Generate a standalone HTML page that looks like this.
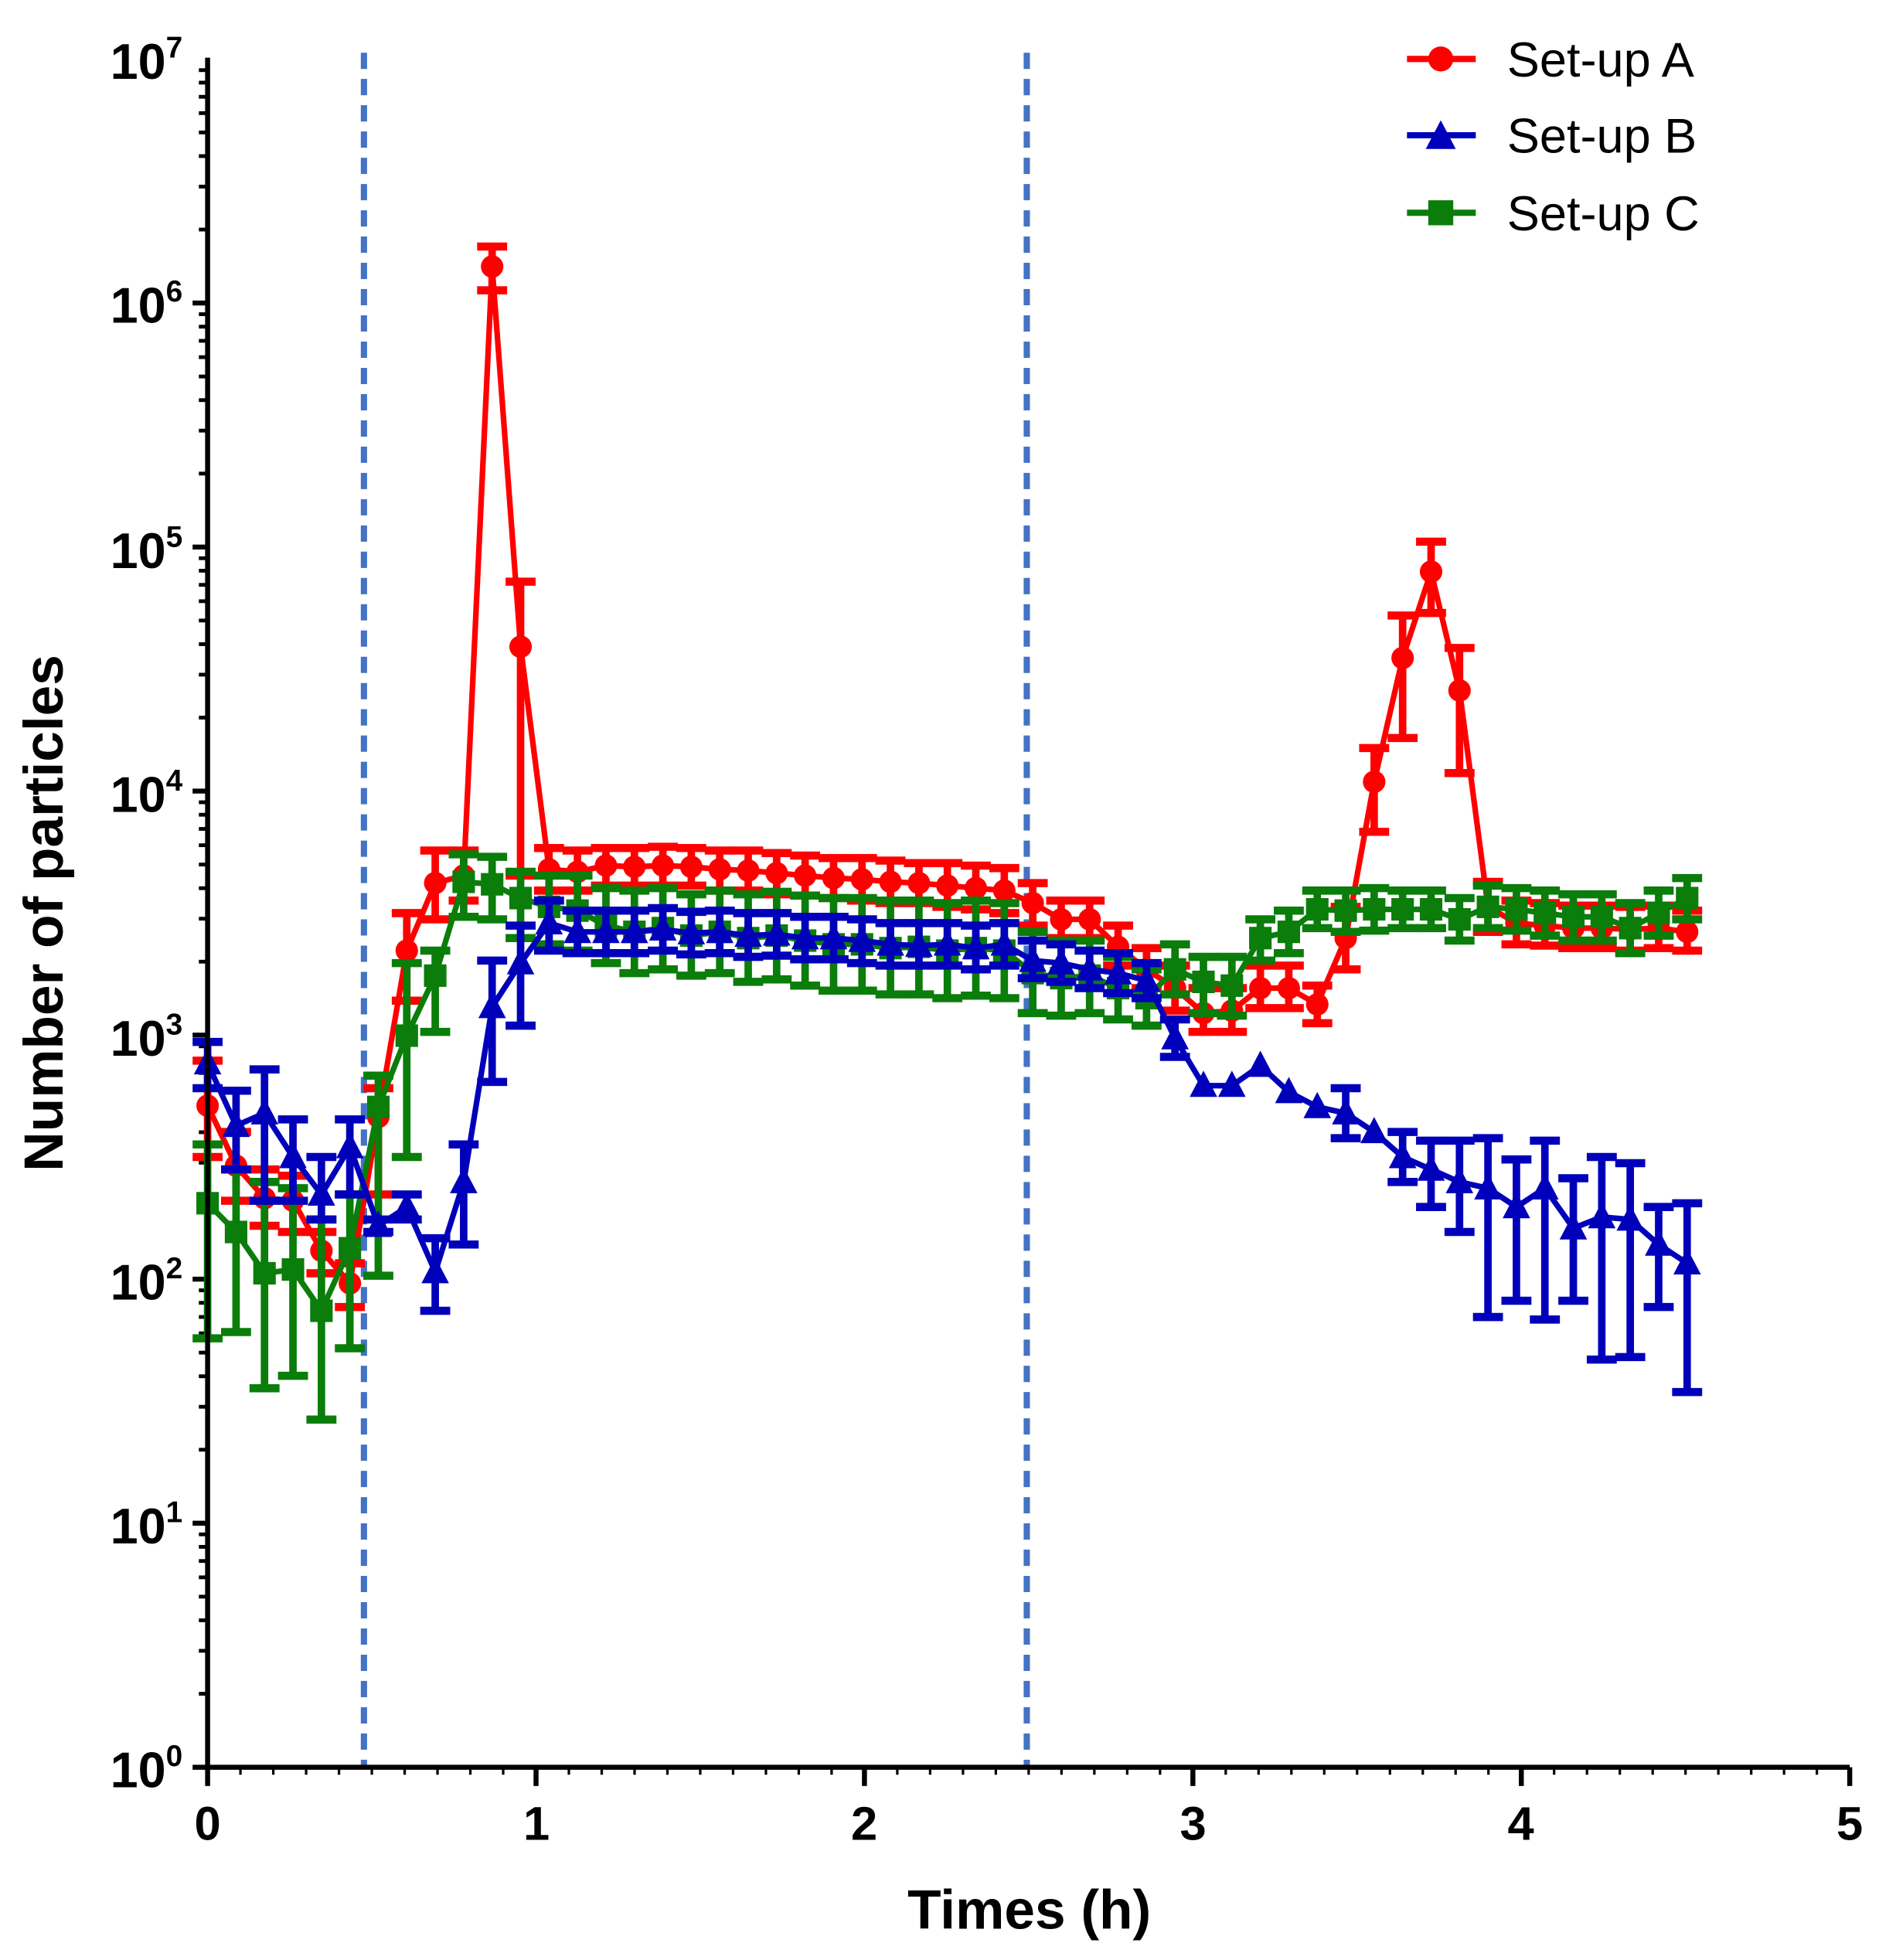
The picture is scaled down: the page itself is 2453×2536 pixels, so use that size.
<!DOCTYPE html>
<html><head><meta charset="utf-8"><style>
html,body{margin:0;padding:0;background:#fff;}
svg{display:block;}
text{font-family:"Liberation Sans",Arial,sans-serif;}
</style></head><body>
<svg id="s" xmlns="http://www.w3.org/2000/svg" width="2453" height="2536" viewBox="0 0 1516 1567">
<rect width="1516" height="1567" fill="#fff"/>
<g id="ticks"></g>
<line x1="291" y1="42" x2="291" y2="1413" stroke="#4472C4" stroke-width="5" stroke-dasharray="13,8"/>
<line x1="821" y1="42" x2="821" y2="1413" stroke="#4472C4" stroke-width="5" stroke-dasharray="13,8"/>
<g id="data"></g>
<line x1="166" y1="46" x2="166" y2="1414" stroke="#000" stroke-width="4"/>
<line x1="165" y1="1413" x2="1479" y2="1413" stroke="#000" stroke-width="4"/>
<g font-weight="bold" font-size="40" text-anchor="end">
<text x="146" y="63">10<tspan font-size="24" dy="-17">7</tspan></text>
<text x="146" y="258">10<tspan font-size="24" dy="-17">6</tspan></text>
<text x="146" y="454">10<tspan font-size="24" dy="-17">5</tspan></text>
<text x="146" y="649">10<tspan font-size="24" dy="-17">4</tspan></text>
<text x="146" y="844">10<tspan font-size="24" dy="-17">3</tspan></text>
<text x="146" y="1039">10<tspan font-size="24" dy="-17">2</tspan></text>
<text x="146" y="1234">10<tspan font-size="24" dy="-17">1</tspan></text>
<text x="146" y="1429">10<tspan font-size="24" dy="-17">0</tspan></text>
</g>
<g font-weight="bold" font-size="38" text-anchor="middle">
<text x="166" y="1471">0</text><text x="429" y="1471">1</text><text x="691" y="1471">2</text>
<text x="954" y="1471">3</text><text x="1216" y="1471">4</text><text x="1479" y="1471">5</text>
</g>
<text x="823" y="1542" font-weight="bold" font-size="44" text-anchor="middle">Times (h)</text>
<text transform="translate(50,730) rotate(-90)" font-weight="bold" font-size="44" text-anchor="middle">Number of particles</text>
<g font-size="39">
<line x1="1125" y1="47" x2="1180" y2="47" stroke="#f00" stroke-width="5"/><circle cx="1152" cy="47" r="10" fill="#f00"/>
<text x="1205" y="61">Set-up A</text>
<line x1="1125" y1="108" x2="1180" y2="108" stroke="#0000bb" stroke-width="5"/><polygon points="1152,96 1164,119 1140,119" fill="#0000bb"/>
<text x="1205" y="122">Set-up B</text>
<line x1="1125" y1="170" x2="1180" y2="170" stroke="#0a7d0a" stroke-width="5"/><rect x="1142" y="160" width="20" height="20" fill="#0a7d0a"/>
<text x="1205" y="184">Set-up C</text>
</g>
</svg>
<script>
(function(){
var NS="http://www.w3.org/2000/svg";
function el(p,t,a){var e=document.createElementNS(NS,t);for(var k in a)e.setAttribute(k,a[k]);p.appendChild(e);return e;}
var tk=document.getElementById('ticks');
for(var d=0;d<7;d++){var y0=1413-d*195.14;
 el(tk,'line',{x1:154,y1:y0,x2:166,y2:y0,stroke:'#000','stroke-width':4});
 for(var m=2;m<10;m++){var y=y0-Math.log10(m)*195.14;el(tk,'line',{x1:159,y1:y,x2:166,y2:y,stroke:'#000','stroke-width':3});}}
for(var i=0;i<=5;i++){var x=166+i*262.6;el(tk,'line',{x1:x,y1:1413,x2:x,y2:1428,stroke:'#000','stroke-width':4});}
for(var i=0;i<50;i++){var x=166+i*26.26;if(i%10)el(tk,'line',{x1:x,y1:1413,x2:x,y2:1419,stroke:'#000','stroke-width':2});}
function X(i){return 166+i*22.75;}
var red=[[884,848,925],[932,905,960],[958,935,980],[960,940,985],[1000,985,1018],[1026,1010,1045],[893,870,955],[760,730,800],[706,680,735],[700,680,720],[213,197,232],[517,465,700],[695,678,712],[697,680,712],[692,678,708],[693,678,708],[692,677,708],[693,678,708],[695,680,712],[696,680,712],[698,682,715],[700,684,716],[702,686,718],[703,686,720],[705,688,722],[706,690,722],[708,690,725],[710,692,727],[712,694,730],[722,706,740],[735,720,750],[735,720,750],[757,740,772],[775,758,790],[790,772,808],[810,790,825],[808,790,825],[790,772,806],[790,772,806],[803,788,818],[750,725,775],[625,598,665],[526,492,590],[457,433,490],[552,518,618],[725,705,745],[738,720,755],[740,722,756],[742,724,758],[742,724,758],[743,725,760],[742,724,758],[745,728,760]];
var blue=[[850,833,870],[900,872,935],[890,855,960],[925,895,960],[955,925,975],[917,895,955],[980,975,985],[965,955,975],[1017,990,1048],[945,915,995],[805,768,865],[770,740,820],[738,720,760],[745,728,762],[745,728,762],[745,728,762],[743,726,760],[746,729,763],[745,728,762],[748,730,765],[747,730,764],[750,733,767],[750,733,767],[752,735,770],[755,738,772],[756,738,772],[755,738,772],[758,740,775],[755,738,772],[768,752,782],[770,755,785],[775,760,790],[778,762,794],[784,770,798],[830,815,845],[868,868,868],[868,868,868],[852,852,852],[873,873,873],[885,885,885],[890,870,910],[905,905,905],[925,905,945],[935,912,965],[945,912,985],[950,910,1053],[965,927,1040],[950,912,1055],[982,942,1040],[973,925,1087],[975,930,1085],[995,965,1045],[1010,962,1113]];
var green=[[962,915,1070],[985,935,1065],[1018,945,1110],[1015,950,1100],[1048,975,1135],[998,955,1078],[885,860,1020],[828,770,925],[780,760,825],[705,683,733],[707,685,735],[718,697,750],[725,700,755],[728,700,760],[740,710,770],[745,712,778],[742,710,775],[748,715,780],[745,712,778],[750,715,785],[748,713,783],[752,716,788],[755,718,792],[755,718,792],[758,720,795],[757,720,795],[760,722,798],[758,720,796],[760,722,798],[778,745,810],[782,752,812],[780,752,810],[790,765,815],[798,775,820],[775,755,795],[785,765,810],[788,765,812],[750,735,768],[745,728,762],[727,712,742],[728,712,745],[727,710,744],[727,712,742],[727,712,742],[735,718,752],[725,708,742],[727,710,744],[730,712,748],[733,715,752],[733,715,752],[742,722,762],[730,712,748],[718,702,735]];
var g=document.getElementById('data');
function series(data,col,mk){
 var pts=data.map(function(d,i){return X(i)+','+d[0];}).join(' ');
 data.forEach(function(d,i){var x=X(i);
  if(d[2]-d[1]>4){el(g,'line',{x1:x,y1:d[1],x2:x,y2:d[2],stroke:col,'stroke-width':6});
  el(g,'line',{x1:x-12,y1:d[1],x2:x+12,y2:d[1],stroke:col,'stroke-width':6.5});
  el(g,'line',{x1:x-12,y1:d[2],x2:x+12,y2:d[2],stroke:col,'stroke-width':6.5});}});
 el(g,'polyline',{points:pts,fill:'none',stroke:col,'stroke-width':4.5,'stroke-linejoin':'round'});
 data.forEach(function(d,i){var x=X(i),y=d[0];
  if(mk=='c')el(g,'circle',{cx:x,cy:y,r:9,fill:col});
  else if(mk=='t')el(g,'polygon',{points:(x)+','+(y-12)+' '+(x+11)+','+(y+9)+' '+(x-11)+','+(y+9),fill:col});
  else el(g,'rect',{x:x-9,y:y-9,width:18,height:18,fill:col});});
}
series(red,'#ff0000','c');
series(green,'#0a7d0a','s');
series(blue,'#0000bb','t');
})();
</script>
</body></html>
